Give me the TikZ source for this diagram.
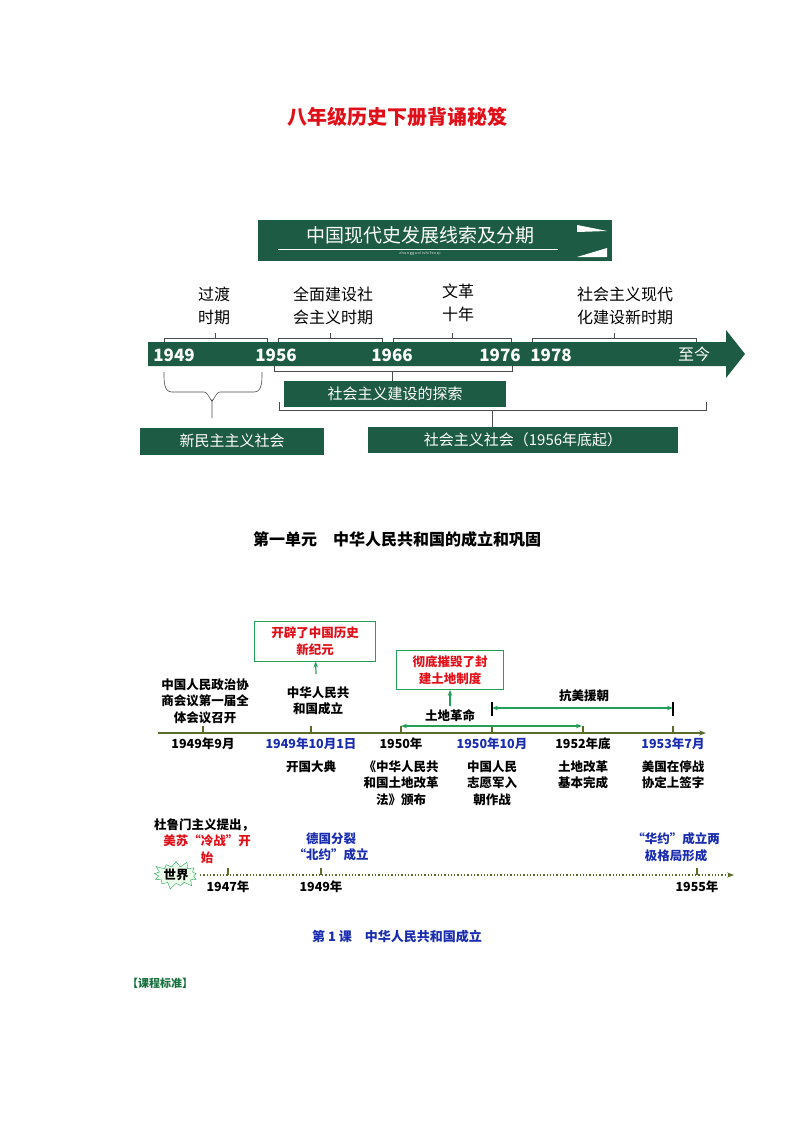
\documentclass[tikz,border=0pt]{standalone}
\usepackage{fontspec}
\setmainfont{Noto Sans CJK SC}
\usetikzlibrary{arrows.meta}
\usetikzlibrary{shapes.symbols}
\definecolor{dkgreen}{HTML}{1E5B45}
\definecolor{arrgreen}{HTML}{22A05A}
\definecolor{olive}{HTML}{5A6B2A}
\definecolor{dblue}{HTML}{1A2DB0}
\definecolor{dred}{HTML}{E0101A}
\begin{document}
\begin{tikzpicture}[x=1pt,y=-1pt,
  gbox/.style={fill=dkgreen,text=white,font=\fontsize{15}{16}\selectfont,inner sep=0pt},
  lab/.style={font=\fontsize{16}{23}\selectfont,align=center},
  yr/.style={font=\fontsize{17}{18}\selectfont\bfseries,text=white},
  ev/.style={font=\fontsize{12.5}{16.5}\selectfont\bfseries,align=center},
  redbox/.style={draw=arrgreen,thick,text=dred,font=\fontsize{12.5}{16.5}\selectfont\bfseries,align=center,inner sep=0pt},
  brk/.style={black!70,line width=0.6pt},
  garr/.style={arrgreen,line width=1.2pt,-{Stealth[length=6pt]}}]
\useasboundingbox (0,0) rectangle (794,1123);

\node[text=dred,font=\fontsize{20}{20}\selectfont\bfseries] (title) at (397,117) {八年级历史下册背诵秘笈};

% banner and first timeline
\fill[dkgreen] (258,220) rectangle (612,261);
\node[text=white,font=\fontsize{19}{19}\selectfont] (banner) at (420,235) {中国现代史发展线索及分期};
\draw[white,line width=0.4pt] (278,249) -- (558,249);
\node[text=white,font=\fontsize{3.5}{4}\selectfont] (pinyin) at (420,254) {z\,h\,o\,n\,g\,g\,u\,o\,l\,i\,s\,h\,i\,f\,e\,n\,q\,i};
\fill[white] (577,225) -- (607,231) -- (577,232) -- cycle;
\fill[white] (577,257) -- (607,248) -- (607,257) -- cycle;

\fill[dkgreen] (148,342) -- (726,342) -- (726,330) -- (745,354) -- (726,378) -- (726,366) -- (148,366) -- cycle;
\foreach \x/\t in {174/1949,276/1956,392/1966,500/1976,551/1978}
  \node[yr] (y\t) at (\x,355) {\t};
\node[yr,font=\fontsize{16}{16}\selectfont] (now) at (694,354) {至今};

\node[lab] (p1) at (214,306) {过渡\\时期};
\node[lab] (p2) at (333,306) {全面建设社\\会主义时期};
\node[lab] (p3) at (458,303) {文革\\十年};
\node[lab] (p4) at (625,306) {社会主义现代\\化建设新时期};
\foreach \a/\b in {164/267,278/382,393/511,532/696}
  \draw[brk] (\a,342) -- (\a,338) -- (\b,338) -- (\b,342) ({(\a+\b)/2},338) -- ({(\a+\b)/2},333);

\draw[brk] (274,366) -- (274,371) -- (512,371) -- (512,366) (392,371) -- (392,381);
\node[gbox,minimum width=222pt,minimum height=26pt] (explore) at (395,394) {社会主义建设的探索};
\draw[brk] (164,372) to[out=-90,in=180] (172,392) -- (204,392) to[out=0,in=-90] (212,400) -- (212,418)
  (212,400) to[out=-90,in=180] (220,392) -- (254,392) to[out=0,in=-90] (262,372);
\node[gbox,minimum width=184pt,minimum height=27pt] (newdem) at (232,441) {新民主主义社会};
\draw[brk] (279,402) -- (279,410) -- (706,410) -- (706,402) (492,410) -- (492,427);
\node[gbox,minimum width=310pt,minimum height=26pt] (social) at (523,440) {社会主义社会（1956年底起）};

\node[font=\fontsize{16}{16}\selectfont\bfseries] (unit) at (397,539) {第一单元\quad 中华人民共和国的成立和巩固};

% second timeline
\draw[olive,line width=1.4pt,-{Stealth[length=7pt]}] (158,733) -- (706,733);
\foreach \x/\n in {203/a,311/b,401/c,492/d,583/e,673/f}
  \draw[olive,line width=1.2pt] (\x,726) coordinate (t\n) -- (\x,733);
\node[ev] at (203,744) {1949年9月};
\node[ev,text=dblue] at (311,744) {1949年10月1日};
\node[ev] at (401,744) {1950年};
\node[ev,text=dblue] at (492,744) {1950年10月};
\node[ev] at (583,744) {1952年底};
\node[ev,text=dblue] at (673,744) {1953年7月};
\node[ev,anchor=north] at (311,757) {开国大典};
\node[ev,anchor=north] at (401,757) {《中华人民共\\和国土地改革\\法》颁布};
\node[ev,anchor=north] at (492,757) {中国人民\\志愿军入\\朝作战};
\node[ev,anchor=north] at (583,757) {土地改革\\基本完成};
\node[ev,anchor=north] at (673,757) {美国在停战\\协定上签字};
\node[ev] (cppcc) at (205,701) {中国人民政治协\\商会议第一届全\\体会议召开};
\node[ev] (prc) at (318,701) {中华人民共\\和国成立};
\node[redbox,minimum width=121pt,minimum height=40pt] (era) at (315,641) {开辟了中国历史\\新纪元};
\draw[garr] (316,674) -- (era);
\node[redbox,minimum width=107pt,minimum height=39pt] (feudal) at (450,670) {彻底摧毁了封\\建土地制度};
\node[ev] (land) at (450,716) {土地革命};
\draw[garr] (land) -- (feudal);
\draw[arrgreen,line width=1.2pt,{Stealth[length=6pt]}-{Stealth[length=6pt]}] (tc) -- (582,726);
\node[ev] (war) at (584,696) {抗美援朝};
\draw[arrgreen,line width=1.2pt,{Stealth[length=6pt]}-{Stealth[length=6pt]}] (492,708) -- (673,708);
\draw[black,line width=1.2pt] (492,702) -- (492,716) (673,702) -- (673,716);

% world timeline
\draw[olive,line width=1.3pt,dotted,-{Stealth[length=7pt]}] (200,875) -- (734,875);
\foreach \x/\y in {228/1947,321/1949,697/1955}{
  \draw[olive,line width=1.2pt] (\x,868) -- (\x,875);
  \node[ev] (w\y) at (\x,887) {\y 年};}
\node[starburst,starburst points=13,starburst point height=7pt,draw=arrgreen,fill=green!8,inner sep=0pt,
  font=\fontsize{12.5}{13}\selectfont\bfseries] (world) at (176,875) {世界};
\node[ev] (truman) at (204,825) {杜鲁门主义提出，};
\node[ev,text=dred] (cold) at (207,849) {美苏“冷战”开\\始};
\node[ev,text=dblue] (nato) at (331,847) {德国分裂\\“北约”成立};
\node[ev,text=dblue] (warsaw) at (676,847) {“华约”成立两\\极格局形成};

\node[text=dblue,font=\fontsize{13}{13}\selectfont\bfseries] (lesson) at (397,937) {第 1 课\quad 中华人民共和国成立};
\node[text=arrgreen!70!black,font=\fontsize{11}{11}\selectfont\bfseries] (std) at (160,983) {【课程标准】};
\end{tikzpicture}
\end{document}
